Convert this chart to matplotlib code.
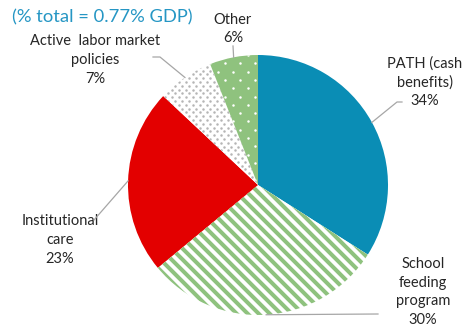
import numpy as np
import matplotlib
matplotlib.use("Agg")
import matplotlib.pyplot as plt

plt.rcParams['font.family'] = ['Lato', 'DejaVu Sans']

# Spending shares by programme (% of total social protection spend)
programs = ["PATH (cash\nbenefits)", "School\nfeeding\nprogram", "Institutional\ncare",
            "Active  labor market\npolicies", "Other"]
shares = [34, 30, 23, 7, 6]
subtitle = "(% total = 0.77% GDP)"

BLUE = "#0a8db5"
RED = "#e30000"
GREEN = "#8fc27e"
GREY_DOT = "#b5b5b5"
TEXT = "#262626"

W, H = 468, 329
fig = plt.figure(figsize=(W / 100, H / 100), dpi=100)
ax = fig.add_axes([0, 0, 1, 1])
ax.set_xlim(0, W)
ax.set_ylim(0, H)
ax.set_aspect("equal")
ax.axis("off")

cx, cy, r = 258, H - 185, 130

wedges, _ = ax.pie(shares, startangle=90, counterclock=False, center=(cx, cy), radius=r,
                   colors=[BLUE, "white", RED, "white", GREEN],
                   wedgeprops=dict(linewidth=0))
ax.set_xlim(0, W)
ax.set_ylim(0, H)


def stripes(wedge, spacing=11, lw=2.9, color=GREEN):
    # diagonal "\" stripes clipped to the wedge
    for c in np.arange(-2 * W, 2 * W, spacing):
        xs = np.array([-50, W + 50])
        ln, = ax.plot(xs, -xs + c, color=color, lw=lw, solid_capstyle="butt")
        ln.set_clip_path(wedge)


def dots(wedge, dx, dy, color, size):
    pts = []
    for i, y in enumerate(np.arange(0, H, dy)):
        off = dx / 2 if i % 2 else 0
        for x in np.arange(off, W, dx):
            pts.append((x, y))
    pts = np.array(pts)
    sc = ax.scatter(pts[:, 0], pts[:, 1], s=size, color=color, linewidths=0, zorder=3)
    sc.set_clip_path(wedge)


stripes(wedges[1])
dots(wedges[3], 7, 3.8, GREY_DOT, 3.2)
dots(wedges[4], 15, 8.3, "white", 3.2)

# label centres and leader-line bends (pixel coords from top-left)
label_xy = [(425, 82), (423, 292), (60, 240), (95, 60), (233, 29)]
bends = [[(397, 102), (402, 102)], [(378, 314)], [(94, 220)],
         [(160, 57), (153, 57)], [(233, 46)]]

for w, name, pct, (lx, ly), bend in zip(wedges, programs, shares, label_xy, bends):
    mid = np.deg2rad((w.theta1 + w.theta2) / 2)
    ex, ey = cx + r * np.cos(mid), cy + r * np.sin(mid)
    xs = [ex] + [b[0] for b in bend]
    ys = [ey] + [H - b[1] for b in bend]
    ax.plot(xs, ys, color="#a6a6a6", lw=0.9, zorder=4)
    ax.text(lx, H - ly, f"{name}\n{pct}%", ha="center", va="center",
            multialignment="center", fontsize=10.5, color=TEXT, linespacing=1.42)

ax.text(12, H - 17, subtitle, ha="left", va="center", fontsize=13.2, color="#2596c4")

fig.savefig("out.png", dpi=100)
